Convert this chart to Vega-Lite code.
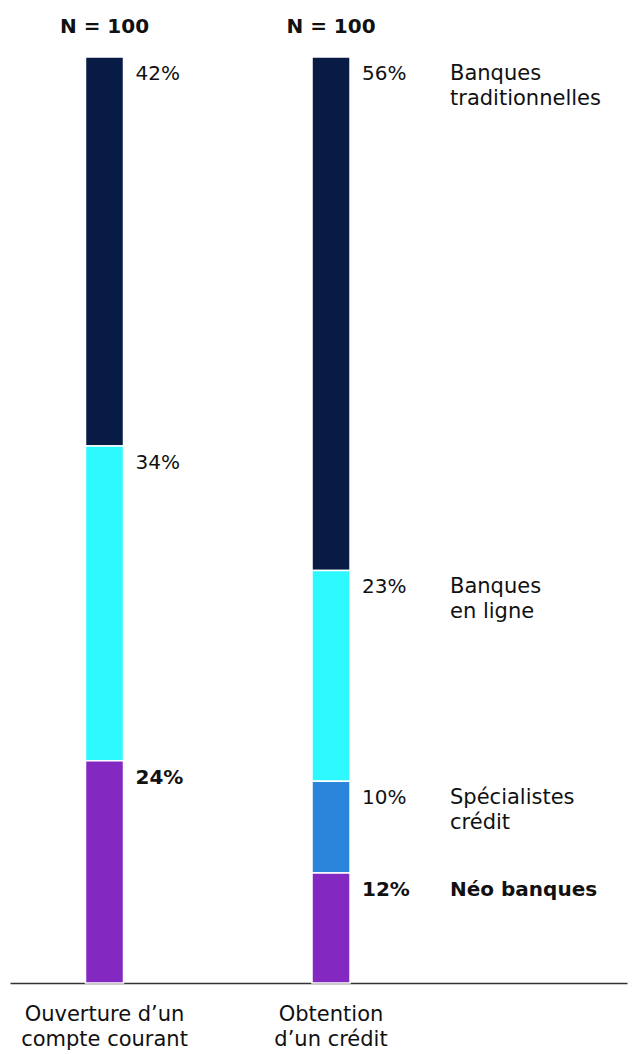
{
  "$schema": "https://vega.github.io/schema/vega-lite/v6.json",
  "width": 617,
  "height": 926,
  "autosize": "none",
  "padding": {"left": 10, "top": 57, "right": 6, "bottom": 71},
  "background": "white",
  "config": {"view": {"stroke": null}, "font": "DejaVu Sans", "text": {"font": "DejaVu Sans"}},
  "data": {
    "values": [
      {"bar": "Ouverture d’un compte courant", "category": "Banques traditionnelles", "order": 4, "value": 42, "label": "42%"},
      {"bar": "Ouverture d’un compte courant", "category": "Banques en ligne", "order": 3, "value": 34, "label": "34%"},
      {"bar": "Ouverture d’un compte courant", "category": "Néo banques", "order": 1, "value": 24, "label": "24%"},
      {"bar": "Obtention d’un crédit", "category": "Banques traditionnelles", "order": 4, "value": 56, "label": "56%"},
      {"bar": "Obtention d’un crédit", "category": "Banques en ligne", "order": 3, "value": 23, "label": "23%"},
      {"bar": "Obtention d’un crédit", "category": "Spécialistes crédit", "order": 2, "value": 10, "label": "10%"},
      {"bar": "Obtention d’un crédit", "category": "Néo banques", "order": 1, "value": 12, "label": "12%"}
    ]
  },
  "transform": [
    {"stack": "value", "groupby": ["bar"], "sort": [{"field": "order", "order": "ascending"}], "as": ["y0", "y1"], "offset": "normalize"},
    {"lookup": "category", "from": {"data": {"values": [
      {"category": "Banques traditionnelles", "name": "Banques traditionnelles"},
      {"category": "Banques en ligne", "name": "Banques en\u00a0ligne"},
      {"category": "Spécialistes crédit", "name": "Spécialistes crédit"},
      {"category": "Néo banques", "name": "Néo banques"}
    ]}, "key": "category", "fields": ["name"]}}
  ],
  "encoding": {
    "x": {
      "field": "bar",
      "type": "nominal",
      "sort": ["Ouverture d’un compte courant", "Obtention d’un crédit"],
      "scale": {"paddingInner": 0.8322, "paddingOuter": 0.778, "align": 0.2142},
      "axis": {
        "title": null,
        "labelAngle": 0,
        "ticks": false,
        "grid": false,
        "domainColor": "#333333",
        "domainWidth": 1.5,
        "labelFontSize": 21,
        "labelColor": "#111111",
        "labelFont": "DejaVu Sans",
        "labelLineHeight": 25,
        "labelPadding": 20,
        "labelExpr": "datum.value == 'Ouverture d’un compte courant' ? ['Ouverture d’un', 'compte courant'] : ['Obtention', 'd’un crédit']"
      }
    }
  },
  "layer": [
    {
      "mark": {"type": "bar", "stroke": "white", "strokeWidth": 1.5},
      "encoding": {
        "y": {"field": "y0", "type": "quantitative", "scale": {"domain": [0, 1]}, "axis": null},
        "y2": {"field": "y1"},
        "color": {
          "field": "category",
          "type": "nominal",
          "scale": {
            "domain": ["Banques traditionnelles", "Banques en ligne", "Spécialistes crédit", "Néo banques"],
            "range": ["#071B45", "#2EF9FF", "#2A86DA", "#8428C2"]
          },
          "legend": null
        }
      }
    },
    {
      "transform": [{"filter": "datum.category != 'Néo banques'"}],
      "mark": {"type": "text", "align": "left", "baseline": "alphabetic", "dx": 31, "dy": 23, "fontSize": 20, "color": "#111111"},
      "encoding": {
        "y": {"field": "y1", "type": "quantitative"},
        "text": {"field": "label"}
      }
    },
    {
      "transform": [{"filter": "datum.category == 'Néo banques'"}],
      "mark": {"type": "text", "align": "left", "baseline": "alphabetic", "dx": 31, "dy": 23, "fontSize": 20, "fontWeight": "bold", "color": "#111111"},
      "encoding": {
        "y": {"field": "y1", "type": "quantitative"},
        "text": {"field": "label"}
      }
    },
    {
      "transform": [{"filter": "datum.bar == 'Obtention d’un crédit' && datum.category != 'Néo banques'"}],
      "mark": {"type": "text", "align": "left", "baseline": "alphabetic", "dx": 119, "dy": 23, "fontSize": 21, "color": "#111111", "lineBreak": " ", "lineHeight": 25},
      "encoding": {
        "y": {"field": "y1", "type": "quantitative"},
        "text": {"field": "name"}
      }
    },
    {
      "transform": [{"filter": "datum.bar == 'Obtention d’un crédit' && datum.category == 'Néo banques'"}],
      "mark": {"type": "text", "align": "left", "baseline": "alphabetic", "dx": 119, "dy": 23, "fontSize": 20, "fontWeight": "bold", "color": "#111111"},
      "encoding": {
        "y": {"field": "y1", "type": "quantitative"},
        "text": {"field": "name"}
      }
    },
    {
      "transform": [{"filter": "datum.order == 4"}],
      "mark": {"type": "text", "text": "N = 100", "align": "center", "baseline": "alphabetic", "dy": -24, "fontSize": 20, "fontWeight": "bold", "color": "#111111"},
      "encoding": {
        "y": {"datum": 1, "type": "quantitative"}
      }
    }
  ]
}
